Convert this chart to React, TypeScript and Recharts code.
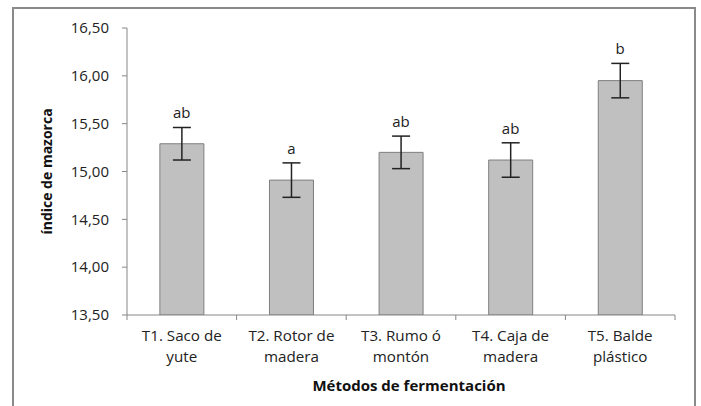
import React from 'react';
import { ComposedChart, Bar, Line, XAxis, YAxis, ErrorBar, LabelList } from 'recharts';

const categories = ['T1. Saco de|yute', 'T2. Rotor de|madera', 'T3. Rumo ó|montón', 'T4. Caja de|madera', 'T5. Balde|plástico'];
const values = [15.29, 14.91, 15.2, 15.12, 15.95];
const errors = [0.17, 0.18, 0.17, 0.18, 0.18];
const letters = ['ab', 'a', 'ab', 'ab', 'b'];
const yTicks = [13.5, 14.0, 14.5, 15.0, 15.5, 16.0, 16.5];

const data = categories.map((c, i) => ({
  name: c,
  value: values[i],
  err: errors[i],
  upper: values[i] + errors[i],
  letter: letters[i],
}));

const FONT = '"Open Sans", sans-serif';
const AXIS_COLOR = '#868686';
const TEXT_COLOR = '#222';

const XTick = (props: any) => {
  const { x, y, payload, index } = props;
  const half = payload && typeof payload.offset === 'number' ? payload.offset : 54.8;
  const lines = String(payload.value).split('|');
  return (
    <g>
      <line x1={x - half} x2={x - half} y1={y} y2={y + 5} stroke={AXIS_COLOR} strokeWidth={1} />
      {index === categories.length - 1 && (
        <line x1={x + half} x2={x + half} y1={y} y2={y + 5} stroke={AXIS_COLOR} strokeWidth={1} />
      )}
      <text x={x} y={y + 25.5} textAnchor="middle" fontFamily={FONT} fontSize={15.2} fill={TEXT_COLOR}>
        {lines[0]}
      </text>
      <text x={x} y={y + 46.5} textAnchor="middle" fontFamily={FONT} fontSize={15.2} fill={TEXT_COLOR}>
        {lines[1]}
      </text>
    </g>
  );
};

export default function App() {
  return (
    <div style={{ position: 'fixed', left: 0, top: 0, width: 701, height: 406, background: '#fff', overflow: 'hidden' }}>
      <div
        style={{
          position: 'absolute',
          left: 12,
          top: 7,
          width: 680,
          height: 430,
          borderLeft: '2px solid #8a8a8a',
          borderTop: '2px solid #8a8a8a',
          borderRight: '2px solid #8a8a8a',
        }}
      />
      <div style={{ position: 'absolute', left: 0, top: 0 }}>
        <ComposedChart width={701} height={406} data={data} margin={{ top: 28, right: 26, bottom: 0, left: 0 }} barCategoryGap="30%">
          <XAxis
            dataKey="name"
            height={91}
            axisLine={{ stroke: AXIS_COLOR, strokeWidth: 1 }}
            tickLine={false}
            tickSize={0}
            tickMargin={0}
            interval={0}
            tick={<XTick />}
            label={{
              value: 'Métodos de fermentación',
              position: 'insideBottom',
              offset: 15,
              dx: 8,
              style: { fontFamily: FONT, fontSize: 15, fontWeight: 700, fill: '#111' },
            }}
          />
          <YAxis
            width={127}
            domain={[13.5, 16.5]}
            ticks={yTicks}
            interval={0}
            allowDataOverflow
            axisLine={{ stroke: AXIS_COLOR, strokeWidth: 1 }}
            tickLine={{ stroke: AXIS_COLOR, strokeWidth: 1 }}
            tickSize={5}
            tickMargin={13}
            tickFormatter={(v: number) => v.toFixed(2).replace('.', ',')}
            tick={{ fontFamily: FONT, fontSize: 15, fill: TEXT_COLOR }}
            label={{
              value: 'índice de mazorca',
              angle: -90,
              position: 'center',
              dx: -16,
              style: { fontFamily: FONT, fontSize: 14, fontWeight: 700, fill: '#111', textAnchor: 'middle' },
            }}
          />
          <Bar dataKey="value" fill="#c0c0c0" stroke="#7f7f7f" strokeWidth={1} isAnimationActive={false}>
            <ErrorBar dataKey="err" width={9} stroke="#222" strokeWidth={1.5} />
          </Bar>
          <Line
            dataKey="upper"
            stroke="none"
            dot={false}
            activeDot={false}
            legendType="none"
            isAnimationActive={false}
          >
            <LabelList dataKey="letter" position="top" offset={9} style={{ fontFamily: FONT, fontSize: 15, fill: TEXT_COLOR }} />
          </Line>
        </ComposedChart>
      </div>
    </div>
  );
}
